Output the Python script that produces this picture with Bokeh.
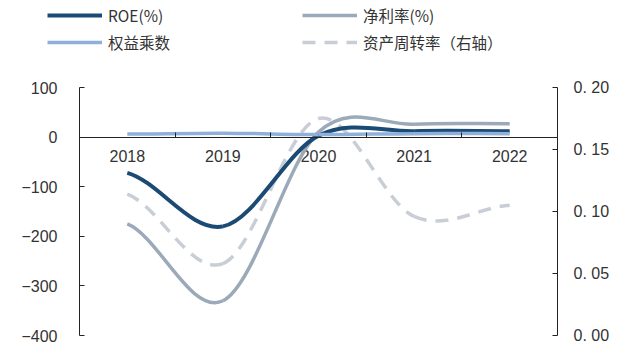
from bokeh.plotting import figure
from bokeh.layouts import column
from bokeh.models import (Range1d, LinearAxis, FixedTicker, CustomJSTickFormatter,
                          Legend, LegendItem)
from bokeh.core.properties import value
from bokeh.embed import file_html
from bokeh.resources import INLINE

# ---- data ----
years = ["2018", "2019", "2020", "2021", "2022"]
roe = [-72, -180, 3, 12, 12]
net_margin = [-175, -330, 10, 26, 27]
equity_mult = [6, 8, 5, 7, 7]
asset_turnover = [0.114, 0.058, 0.175, 0.096, 0.105]
left_ticks = [-400, -300, -200, -100, 0, 100]
right_ticks = [0.0, 0.05, 0.10, 0.15, 0.20]

names = ["ROE(%)", "净利率(%)", "权益乘数", "资产周转率（右轴）"]
colors = ["#1B4A75", "#9BA9B8", "#8FB0DA", "#C9CED6"]
widths = [4, 3.5, 3.5, 3.5]
dashes = ["solid", "solid", "solid", "13 9"]

xs = list(range(len(years)))
series = [roe, net_margin, equity_mult, asset_turnover]


def bezier_segments(ys):
    n = len(ys)
    x0, y0, x1, y1, cx0, cy0, cx1, cy1 = [], [], [], [], [], [], [], []
    for i in range(n - 1):
        pm = ys[i - 1] if i > 0 else ys[i]
        pp = ys[i + 2] if i + 2 < n else ys[i + 1]
        x0.append(xs[i]); y0.append(ys[i])
        x1.append(xs[i + 1]); y1.append(ys[i + 1])
        cx0.append(xs[i] + 1 / 3); cy0.append(ys[i] + (ys[i + 1] - pm) / 6)
        cx1.append(xs[i + 1] - 1 / 3); cy1.append(ys[i + 1] - (pp - ys[i]) / 6)
    return dict(x0=x0, y0=y0, x1=x1, y1=y1, cx0=cx0, cy0=cy0, cx1=cx1, cy1=cy1)


LEG_H = 60
p = figure(width=619, height=345 - LEG_H, output_backend="svg", toolbar_location=None,
           x_range=Range1d(-0.5, 4.5), y_range=Range1d(-400, 100),
           x_axis_location=None, y_axis_location=None,
           min_border_left=79, min_border_right=62, min_border_top=87 - LEG_H,
           min_border_bottom=10)
p.outline_line_color = None
p.xgrid.visible = False
p.ygrid.visible = False
p.frame_align = False
p.extra_y_ranges = {"right": Range1d(0, 0.20)}

font = "Liberation Sans"
axis_color = "#222222"
label_color = "#333333"

# left axis
ly = LinearAxis(ticker=FixedTicker(ticks=left_ticks),
                formatter=CustomJSTickFormatter(code="return tick < 0 ? '\u2212' + Math.abs(tick) : String(tick);"))
ly.major_tick_in = 5
ly.major_tick_out = 0
ly.minor_tick_line_color = None
ly.major_label_standoff = 22
ly.axis_line_color = axis_color
ly.major_tick_line_color = axis_color
ly.major_label_text_font = font
ly.major_label_text_font_size = "16px"
ly.major_label_text_color = label_color
p.add_layout(ly, "left")

# right axis
ry = LinearAxis(y_range_name="right", ticker=FixedTicker(ticks=right_ticks),
                formatter=CustomJSTickFormatter(code="return tick.toFixed(2).replace('.', '. ');"))
ry.major_tick_in = 5
ry.major_tick_out = 0
ry.minor_tick_line_color = None
ry.major_label_standoff = 16
ry.axis_line_color = axis_color
ry.major_tick_line_color = axis_color
ry.major_label_text_font = font
ry.major_label_text_font_size = "16px"
ry.major_label_text_color = label_color
p.add_layout(ry, "right")

# x axis line at zero with ticks between categories (no labels)
xa = LinearAxis(ticker=FixedTicker(ticks=[i + 0.5 for i in xs[:-1]]), fixed_location=0,
                formatter=CustomJSTickFormatter(code="return '';"))
xa.major_tick_out = 5
xa.major_tick_in = 0
xa.minor_tick_line_color = None
xa.axis_line_color = axis_color
xa.major_tick_line_color = axis_color
p.add_layout(xa, "above")

# category labels under the zero line
p.text(x=xs, y=[0] * len(xs), text=years, y_offset=13, text_align="center",
       text_baseline="top", text_font=value(font), text_font_size="16px",
       text_color=label_color)

# series
order = [3, 1, 0, 2]
for k in order:
    kw = dict(y_range_name="right") if k == 3 else {}
    p.bezier(source=bezier_segments(series[k]), x0="x0", y0="y0", x1="x1", y1="y1",
             cx0="cx0", cy0="cy0", cx1="cx1", cy1="cy1",
             line_color=colors[k], line_width=widths[k], line_dash=dashes[k], **kw)

# legend strip (its own frame covers the whole strip; the series are out of view there)
lf = figure(width=619, height=LEG_H, output_backend="svg", toolbar_location=None,
            x_range=Range1d(-0.5, 4.5), y_range=Range1d(1000, 2000),
            x_axis_location=None, y_axis_location=None,
            min_border_left=0, min_border_right=0, min_border_top=0, min_border_bottom=0)
lf.outline_line_color = None
lf.xgrid.visible = False
lf.ygrid.visible = False
lf.frame_align = False
lr = [lf.line(x=xs, y=series[k], line_color=colors[k], line_width=widths[k],
              line_dash=dashes[k]) for k in range(4)]


def make_legend(idx, loc):
    lg = Legend(items=[LegendItem(label=names[k], renderers=[lr[k]]) for k in idx],
                location=loc)
    lg.padding = 0
    lg.margin = 0
    lg.spacing = 5
    lg.border_line_color = None
    lg.background_fill_alpha = 0
    lg.glyph_width = 55
    lg.glyph_height = 20
    lg.label_height = 20
    lg.label_standoff = 6
    lg.label_text_font = "Noto Sans CJK SC"
    lg.label_text_font_size = "15.5px"
    lg.label_text_color = "#333333"
    return lg


lf.add_layout(make_legend([0, 2], (47, 7)))
lf.add_layout(make_legend([1, 3], (302, 7)))

layout = column(lf, p, spacing=0)
open("out.html", "w").write(file_html(layout, INLINE))
